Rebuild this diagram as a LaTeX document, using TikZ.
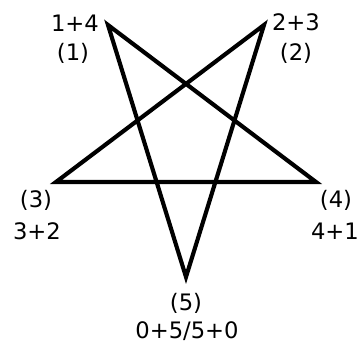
\documentclass[tikz,border=0pt]{standalone}
\usepackage{fontspec}
\setmainfont{DejaVu Sans}
\begin{document}
\begin{tikzpicture}[x=0.75pt, y=-0.75pt]
    % Styles for labels and lines
    \tikzstyle{lbl} = [inner sep=0pt, align=center, font=\fontsize{17}{21}\selectfont]
    \tikzstyle{edge} = [line width=3.1pt, line join=miter]

    \useasboundingbox (0,0) rectangle (358,343);

  % Star points with explicit coordinates
    \coordinate (p1) at (108,25);
    \coordinate (p2) at (264,25);
    \coordinate (p3) at (56,182);
    \coordinate (p4) at (316,182);
    \coordinate (p5) at (186,277);

  % Labels next to the points
    \node[lbl] (sum1) at (75,23) {1+4};
    \node[lbl] (num1) at (73,53) {(1)};
    \node[lbl] (sum2) at (296,22) {2+3};
    \node[lbl] (num2) at (296,53) {(2)};
    \node[lbl] (num3) at (36,200) {(3)};
    \node[lbl] (sum3) at (37,231) {3+2};
    \node[lbl] (num4) at (336,200) {(4)};
    \node[lbl] (sum4) at (335,231) {4+1};
    \node[lbl] (num5) at (186,303) {(5)};
    \node[lbl] (sum5) at (187,331) {0+5/5+0};

  % The star
    \draw[edge] (p1) -- (p5) -- (p2) -- (p3) -- (p4) -- cycle;

\end{tikzpicture}
\end{document}
